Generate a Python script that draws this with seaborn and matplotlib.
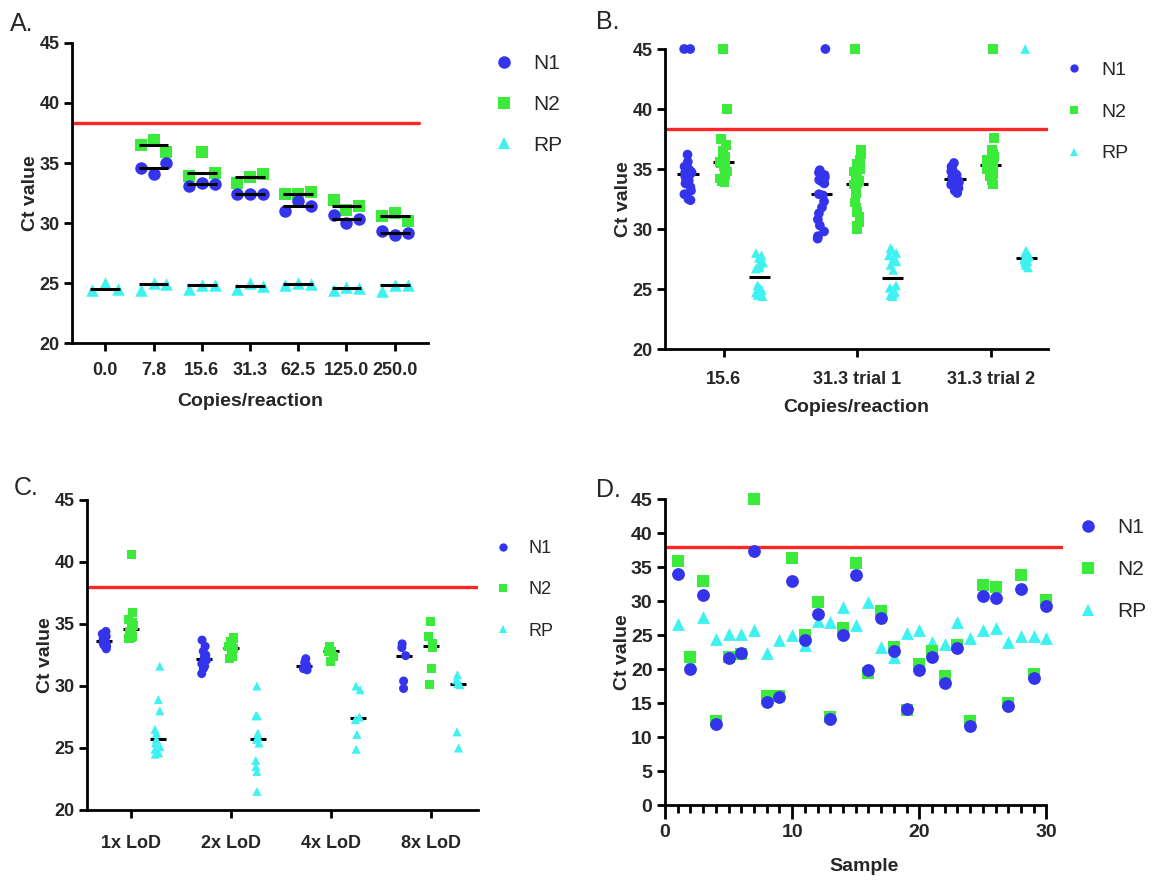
import warnings
warnings.filterwarnings("ignore")

import numpy as np
import pandas as pd
import matplotlib
matplotlib.use("Agg")
import matplotlib.pyplot as plt
from matplotlib.lines import Line2D
from matplotlib.ticker import MultipleLocator, FixedLocator
import seaborn as sns

sns.set_theme(style="ticks")
plt.rcParams["font.family"] = ["Liberation Sans", "DejaVu Sans"]
np.random.seed(7)  # reproducible horizontal spread of the scatter columns

W, H = 1154, 883

targets = ["N1", "N2", "RP"]
palette = {"N1": "#3434ec", "N2": "#3cea3c", "RP": "#3ef2f2"}
marker_of = {"N1": "o", "N2": "s", "RP": "^"}
cutoff_ab = 38.3
cutoff_cd = 38.0

# ---- A: dilution series, three replicates per level ----
a_copies = ["0.0", "7.8", "15.6", "31.3", "62.5", "125.0", "250.0"]
a_n1 = [[], [34.6, 34.1, 35.0], [33.1, 33.35, 33.25], [32.4, 32.45, 32.4],
        [31.0, 31.8, 31.4], [30.7, 30.0, 30.3], [29.35, 29.0, 29.2]]
a_n2 = [[], [36.5, 36.9, 35.9], [33.9, 35.9, 34.2], [33.3, 33.85, 34.1],
        [32.4, 32.4, 32.6], [31.9, 31.1, 31.4], [30.6, 30.85, 30.2]]
a_rp = [[24.4, 25.0, 24.5], [24.4, 25.0, 24.9], [24.5, 24.85, 24.85],
        [24.5, 25.0, 24.75], [24.8, 25.0, 24.95], [24.4, 24.7, 24.6],
        [24.3, 24.85, 24.8]]

# ---- B: LoD confirmation runs ----
b_groups = ["15.6", "31.3 trial 1", "31.3 trial 2"]
b_n1 = [
    [45, 45, 36.2, 35.6, 35.2, 35.0, 34.9, 34.8, 34.7, 34.7, 34.6, 34.5, 34.4,
     34.2, 34.0, 33.8, 33.5, 33.2, 32.9, 32.5, 32.4],
    [45, 34.9, 34.7, 34.5, 34.3, 34.1, 34.0, 33.9, 33.8, 32.9, 32.8, 32.3,
     31.8, 31.3, 30.8, 30.3, 29.8, 29.4, 29.2],
    [35.5, 35.2, 35.0, 34.8, 34.6, 34.5, 34.4, 34.3, 34.2, 34.1, 34.0, 33.9,
     33.8, 33.7, 33.6, 33.4, 33.2, 33.0],
]
b_n2 = [
    [45, 40.0, 37.5, 37.0, 36.5, 36.2, 36.0, 35.9, 35.7, 35.6, 35.5, 35.4,
     35.2, 35.0, 34.8, 34.5, 34.2, 34.0, 33.9],
    [45, 36.6, 36.2, 35.8, 35.4, 35.0, 34.8, 34.5, 34.2, 34.0, 33.8, 33.7,
     33.5, 33.0, 32.6, 32.2, 31.8, 31.4, 31.0, 30.6, 30.3, 30.0],
    [45, 37.6, 36.6, 36.3, 36.0, 35.8, 35.6, 35.5, 35.4, 35.3, 35.3, 35.2,
     35.1, 35.0, 34.8, 34.6, 34.4, 34.1, 33.9, 33.7],
]
b_rp = [
    [28.0, 27.8, 27.6, 27.4, 27.2, 27.0, 26.8, 26.7, 25.3, 25.1, 25.0, 24.9,
     24.8, 24.7, 24.5, 24.4],
    [28.4, 28.2, 28.0, 27.8, 27.5, 27.3, 27.0, 26.6, 25.3, 25.1, 24.9, 24.8,
     24.7, 24.6, 24.5, 24.4],
    [45, 28.2, 28.0, 27.8, 27.7, 27.6, 27.6, 27.5, 27.5, 27.4, 27.3, 27.2,
     27.0, 26.8],
]

# ---- C: multiples of the LoD ----
c_groups = ["1x LoD", "2x LoD", "4x LoD", "8x LoD"]
c_n1 = [
    [34.4, 34.2, 34.0, 33.9, 33.8, 33.7, 33.6, 33.5, 33.4, 33.3, 33.2, 33.0],
    [33.7, 33.2, 32.8, 32.5, 32.4, 32.2, 32.1, 31.8, 31.6, 31.4, 31.0],
    [32.2, 31.9, 31.7, 31.6, 31.4, 31.3],
    [33.4, 33.1, 32.45, 30.4, 29.8],
]
c_n2 = [
    [40.6, 35.9, 35.4, 35.1, 34.9, 34.6, 34.4, 34.2, 34.0, 33.9, 33.8],
    [33.9, 33.8, 33.6, 33.4, 33.2, 33.0, 32.8, 32.6, 32.4, 32.2],
    [33.2, 33.0, 32.8, 32.8, 32.4, 32.0],
    [35.2, 34.0, 33.4, 33.1, 31.4, 30.1],
]
c_rp = [
    [31.6, 28.9, 28.0, 26.5, 26.2, 25.7, 25.4, 25.1, 24.9, 24.6, 24.5],
    [30.0, 27.6, 27.6, 26.2, 25.9, 25.7, 25.4, 24.0, 23.5, 23.1, 21.5],
    [30.0, 29.7, 27.5, 27.3, 26.1, 24.9],
    [30.9, 30.5, 30.2, 30.1, 26.3, 25.0],
]

# ---- D: clinical samples ----
d_sample = list(range(1, 31))
d_n1 = [34.0, 20.0, 30.9, 11.9, 21.6, 22.3, 37.3, 15.2, 15.9, 32.9,
        24.3, 28.1, 12.7, 25.0, 33.8, 19.8, 27.5, 22.6, 14.1, 19.8,
        21.8, 17.9, 23.1, 11.6, 30.8, 30.4, 14.6, 31.8, 18.7, 29.3]
d_n2 = [35.9, 21.7, 32.9, 12.4, 21.8, 22.2, 45.0, 16.1, 16.0, 36.3,
        25.0, 29.9, 13.0, 26.0, 35.6, 19.4, 28.6, 23.2, 14.0, 20.7,
        22.7, 18.9, 23.5, 12.3, 32.4, 32.1, 15.0, 33.8, 19.2, 30.1]
d_rp = [26.6, 21.0, 27.7, 24.4, 25.2, 25.2, 25.8, 22.3, 24.3, 25.0,
        23.6, 27.0, 26.9, 29.1, 26.5, 29.8, 23.3, 21.7, 25.3, 25.8,
        24.0, 23.7, 26.9, 24.6, 25.8, 26.0, 23.9, 24.9, 24.9, 24.6]


def long_groups(groups, series):
    rows = []
    for tgt, per_group in zip(targets, series):
        for g, vals in zip(groups, per_group):
            for i, v in enumerate(vals):
                rows.append({"group": g, "target": tgt, "rep": i, "ct": v})
    return pd.DataFrame(rows)


dfA = long_groups(a_copies, [a_n1, a_n2, a_rp])
dfB = long_groups(b_groups, [b_n1, b_n2, b_rp])
dfC = long_groups(c_groups, [c_n1, c_n2, c_rp])
dfD = pd.DataFrame({"sample": d_sample * 3,
                    "target": ["N1"] * 30 + ["N2"] * 30 + ["RP"] * 30,
                    "ct": d_n1 + d_n2 + d_rp})

fig = plt.figure(figsize=(W / 100, H / 100), dpi=100)


def axes_px(x0, y_top, x1, y_bot):
    return fig.add_axes([x0 / W, 1 - y_bot / H, (x1 - x0) / W, (y_bot - y_top) / H])


axA = axes_px(72, 43, 428, 343)
axB = axes_px(665, 49, 1048, 349)
axC = axes_px(87, 500, 478, 810)
axD = axes_px(665, 499, 1063, 805)

median_kws = dict(showbox=False, showcaps=False, showfliers=False,
                  whiskerprops={"visible": False}, fill=False, legend=False)


def style_axis(ax, label_size=13):
    sns.despine(ax=ax)
    for s in ("left", "bottom"):
        ax.spines[s].set_linewidth(2.0)
        ax.spines[s].set_color("black")
    ax.tick_params(axis="both", width=2.0, length=6, color="black",
                   labelsize=label_size, pad=3)
    for lbl in ax.get_xticklabels() + ax.get_yticklabels():
        lbl.set_fontweight("bold")
    ax.set_ylabel("Ct value", fontsize=14, fontweight="bold", labelpad=0)
    ax.grid(False)


order_rev = ["RP", "N2", "N1"]

# ---------------- A ----------------
for tgt in order_rev:
    sub = dfA[dfA.target == tgt]
    sns.stripplot(data=sub, x="group", y="ct", hue="rep", order=a_copies,
                  hue_order=[0, 1, 2], palette=[palette[tgt]] * 3, dodge=True,
                  jitter=False, marker=marker_of[tgt], size=9, linewidth=0,
                  legend=False, ax=axA, zorder=2)
for tgt in targets:
    sub = dfA[dfA.target == tgt]
    sns.boxplot(data=sub, x="group", y="ct", order=a_copies, width=0.62,
                medianprops={"color": "black", "linewidth": 2.2, "zorder": 4},
                ax=axA, **median_kws)
axA.axhline(cutoff_ab, xmin=0, xmax=0.975, color="#ff2626", lw=2.4, zorder=1)
axA.set_xlim(-0.69, 6.69)
axA.set_ylim(20, 45)
axA.yaxis.set_major_locator(MultipleLocator(5))
axA.set_xlabel("Copies/reaction", fontsize=14, fontweight="bold", labelpad=10)
style_axis(axA)
axA.tick_params(axis="x", pad=8)


# ---------------- B and C (columns dodged by target) ----------------
def dodged_panel(ax, df, groups, size, jitter, cutoff, xlim):
    sns.boxplot(data=df, x="group", y="ct", hue="target", order=groups,
                hue_order=targets, dodge=True, width=0.8, gap=0.4,
                medianprops={"color": "black", "linewidth": 2.2, "zorder": 1.5},
                ax=ax, **median_kws)
    for tgt in order_rev:
        sub = df[df.target == tgt]
        sns.stripplot(data=sub, x="group", y="ct", hue="target", order=groups,
                      hue_order=targets, palette=palette, dodge=True,
                      jitter=jitter, marker=marker_of[tgt], size=size,
                      linewidth=0, legend=False, ax=ax, zorder=2, clip_on=False)
    ax.axhline(cutoff, color="#ff2626", lw=2.4, zorder=1)
    ax.set_xlim(*xlim)
    ax.set_ylim(20, 45)
    ax.yaxis.set_major_locator(MultipleLocator(5))


dodged_panel(axB, dfB, b_groups, 7, 0.09, cutoff_ab, (-0.44, 2.43))
axB.set_xlabel("Copies/reaction", fontsize=14, fontweight="bold", labelpad=8)
style_axis(axB)
axB.tick_params(axis="x", pad=10)

dodged_panel(axC, dfC, c_groups, 6.5, 0.085, cutoff_cd, (-0.44, 3.47))
axC.set_xlabel("")
style_axis(axC)
axC.tick_params(axis="x", pad=12)

# ---------------- D ----------------
for tgt in order_rev:
    sub = dfD[dfD.target == tgt]
    sns.scatterplot(data=sub, x="sample", y="ct", color=palette[tgt],
                    marker=marker_of[tgt], s=85, linewidth=0, legend=False,
                    ax=axD, zorder=2, clip_on=False)
axD.axhline(cutoff_cd, color="#ff2626", lw=2.4, zorder=1)
axD.set_xlim(0, 31.3)
axD.set_ylim(0, 45)
axD.xaxis.set_major_locator(FixedLocator([0, 10, 20, 30]))
axD.xaxis.set_minor_locator(FixedLocator(d_sample))
axD.yaxis.set_major_locator(MultipleLocator(5))
axD.set_xlabel("Sample", fontsize=14, fontweight="bold", labelpad=12)
style_axis(axD, label_size=14)
axD.spines["bottom"].set_bounds(0, 30)
axD.tick_params(axis="x", which="major", length=10, pad=4)
axD.tick_params(axis="x", which="minor", length=6, width=2.0, color="black")


# ---------------- legends and panel letters ----------------
def add_legend(x_px, y_px, msize, fsize, spacing):
    handles = [Line2D([], [], ls="", marker=marker_of[t], color=palette[t],
                      markersize=msize, markeredgewidth=0) for t in targets]
    fig.legend(handles, targets, loc="upper left",
               bbox_to_anchor=(x_px / W, 1 - y_px / H), frameon=False,
               fontsize=fsize, handletextpad=0.9, labelspacing=spacing,
               borderaxespad=0, borderpad=0, handlelength=1.0)


add_legend(494, 54, 9, 15, 1.05)
add_legend(1064, 61, 6, 14, 1.25)
add_legend(494, 540, 6, 13, 1.35)
add_legend(1078, 518, 9, 15, 1.1)

for letter, x, y in [("A.", 10, 24), ("B.", 596, 22), ("C.", 14, 488), ("D.", 596, 490)]:
    fig.text(x / W, 1 - y / H, letter, fontsize=18, va="center", ha="left")

fig.savefig("out.png", dpi=100)
